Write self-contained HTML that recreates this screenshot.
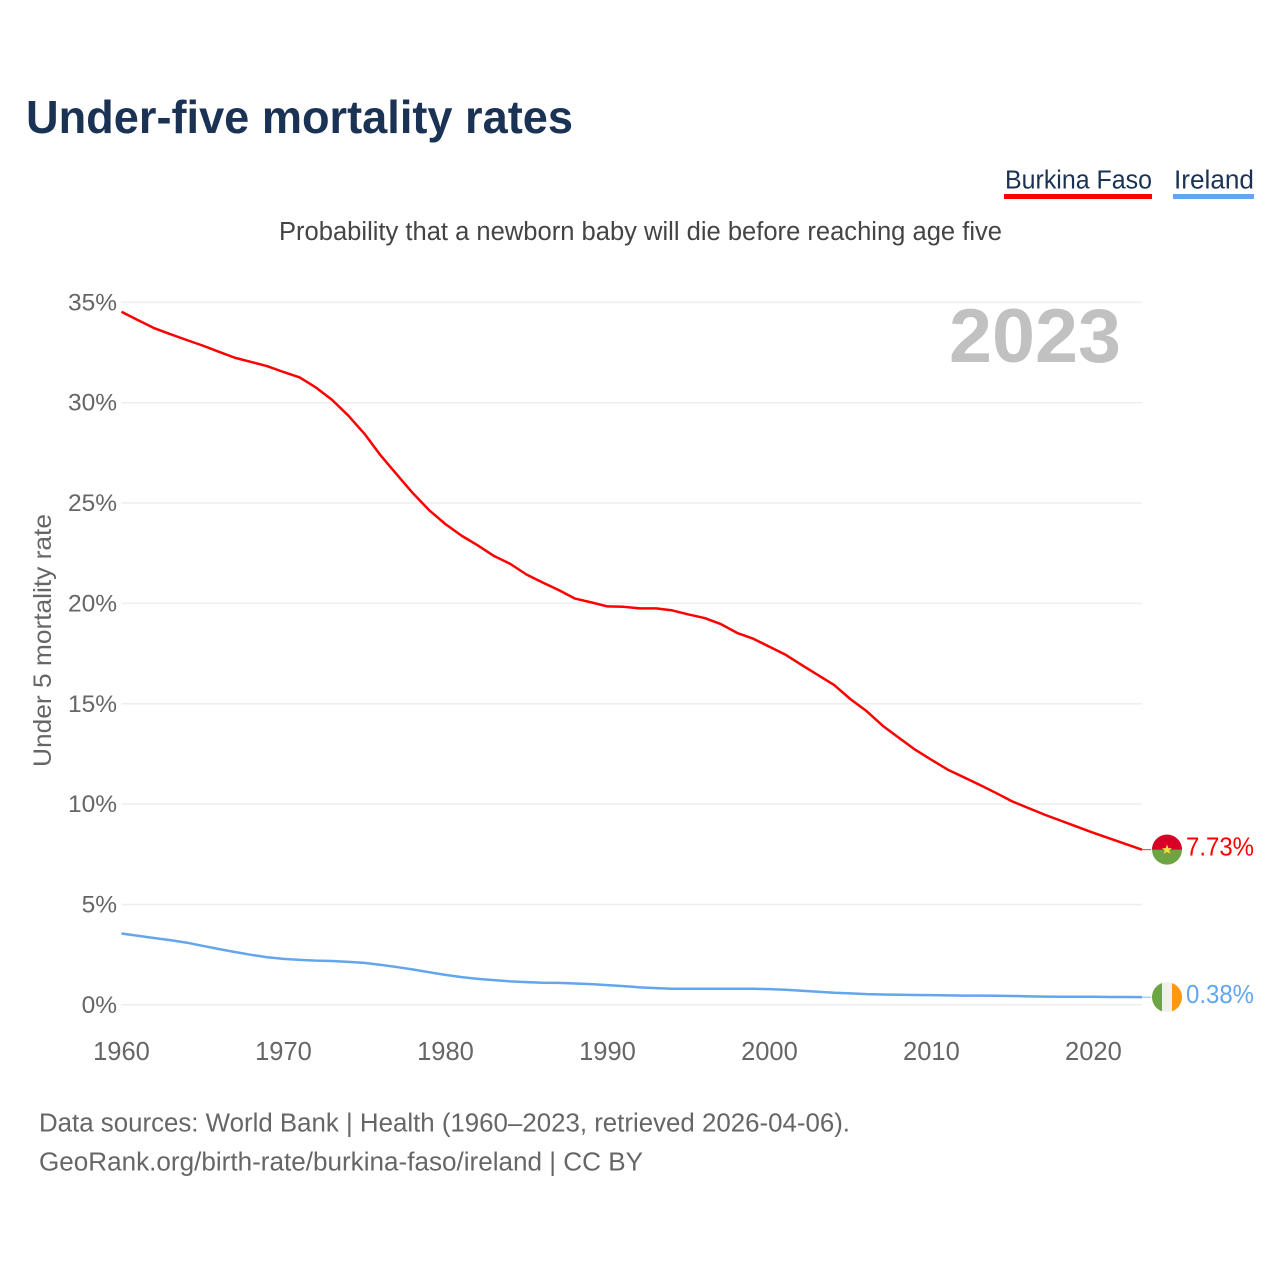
<!DOCTYPE html>
<html lang="en">
<head>
<meta charset="utf-8">
<title>Under-five mortality rates</title>
<style>
  html,body{margin:0;padding:0;background:#fff;}
  #chart{display:block;width:1280px;height:1280px;font-family:"Liberation Sans",sans-serif;}
</style>
</head>
<body>
<svg id="chart" xmlns="http://www.w3.org/2000/svg" width="1280" height="1280" viewBox="0 0 1280 1280">
  <rect x="0" y="0" width="1280" height="1280" fill="#ffffff"></rect>
  <text x="26" y="133" font-size="46" font-weight="700" fill="#1a3354" textLength="547" lengthAdjust="spacingAndGlyphs">Under-five mortality rates</text>

  <text x="1005" y="188.5" font-size="25.5" fill="#1a3354" textLength="147" lengthAdjust="spacingAndGlyphs">Burkina Faso</text>
  <rect x="1004" y="194" width="148" height="5" fill="#ff0000"></rect>
  <text x="1174" y="188.5" font-size="25.5" fill="#1a3354" textLength="80" lengthAdjust="spacingAndGlyphs">Ireland</text>
  <rect x="1173" y="194" width="81" height="5" fill="#63a6ee"></rect>

  <text x="279" y="240" font-size="25.5" fill="#444444" textLength="723" lengthAdjust="spacingAndGlyphs">Probability that a newborn baby will die before reaching age five</text>

  <g id="grid"></g>
  <g id="y-labels"></g>
  <g id="x-labels"></g>

  <text x="1121" y="362" text-anchor="end" font-size="76" font-weight="700" fill="#c1c1c1" textLength="172" lengthAdjust="spacingAndGlyphs">2023</text>

  <text transform="translate(51,767) rotate(-90)" font-size="25" fill="#666666" textLength="253" lengthAdjust="spacingAndGlyphs">Under 5 mortality rate</text>

  <g id="series"></g>
  <g id="end-markers"></g>

  <text x="39" y="1131.5" font-size="25.5" fill="#666666" textLength="811" lengthAdjust="spacingAndGlyphs">Data sources: World Bank | Health (1960–2023, retrieved 2026-04-06).</text>
  <text x="39" y="1170.5" font-size="25.5" fill="#666666" textLength="604" lengthAdjust="spacingAndGlyphs">GeoRank.org/birth-rate/burkina-faso/ireland | CC BY</text>
</svg>

<script>
const years = [1960,1961,1962,1963,1964,1965,1966,1967,1968,1969,
  1970,1971,1972,1973,1974,1975,1976,1977,1978,1979,
  1980,1981,1982,1983,1984,1985,1986,1987,1988,1989,
  1990,1991,1992,1993,1994,1995,1996,1997,1998,1999,
  2000,2001,2002,2003,2004,2005,2006,2007,2008,2009,
  2010,2011,2012,2013,2014,2015,2016,2017,2018,2019,
  2020,2021,2022,2023];
const burkinaFaso = [34.53,34.12,33.72,33.42,33.13,32.85,32.54,32.24,32.03,31.82,
  31.53,31.26,30.76,30.14,29.36,28.45,27.37,26.42,25.48,24.64,
  23.95,23.37,22.89,22.36,21.97,21.44,21.04,20.66,20.24,20.05,
  19.85,19.83,19.75,19.75,19.65,19.45,19.27,18.97,18.53,18.24,
  17.84,17.44,16.93,16.43,15.93,15.23,14.63,13.90,13.30,12.71,
  12.21,11.72,11.34,10.95,10.55,10.13,9.80,9.47,9.17,8.87,
  8.57,8.29,8.01,7.73];
const ireland = [3.55,3.44,3.33,3.22,3.10,2.94,2.78,2.63,2.49,2.37,
  2.29,2.24,2.20,2.18,2.14,2.09,1.99,1.88,1.76,1.62,
  1.49,1.38,1.29,1.23,1.17,1.13,1.10,1.09,1.06,1.03,
  0.98,0.93,0.87,0.83,0.80,0.80,0.80,0.80,0.80,0.80,
  0.78,0.75,0.70,0.65,0.60,0.57,0.53,0.51,0.50,0.49,
  0.48,0.47,0.46,0.46,0.45,0.44,0.42,0.41,0.40,0.40,
  0.40,0.39,0.39,0.38];
const yTickValues = [0,5,10,15,20,25,30,35];
const xTickValues = [1960,1970,1980,1990,2000,2010,2020];

const NS = 'http://www.w3.org/2000/svg';
const plotLeft = 121.5, plotRight = 1142, zeroY = 1004.8, pxPerUnit = 20.07;
const firstYear = years[0], lastYear = years[years.length - 1];
function xScale(year){ return plotLeft + (year - firstYear) * (plotRight - plotLeft) / (lastYear - firstYear); }
function yScale(value){ return zeroY - value * pxPerUnit; }
function make(tag, attrs, parent, text){
  const el = document.createElementNS(NS, tag);
  for (const k in attrs) el.setAttribute(k, attrs[k]);
  if (text !== undefined) el.textContent = text;
  parent.appendChild(el);
  return el;
}

const gridGroup = document.getElementById('grid');
const yLabelGroup = document.getElementById('y-labels');
const xLabelGroup = document.getElementById('x-labels');
const seriesGroup = document.getElementById('series');
const markerGroup = document.getElementById('end-markers');

yTickValues.forEach(function(v){
  const line = make('line', {x1: plotLeft, x2: plotRight, y1: yScale(v), y2: yScale(v), stroke: '#eeeeee', 'stroke-width': 1.5}, gridGroup);
  
  
  const label = make('text', {x: 117, y: yScale(v) + 8, 'text-anchor': 'end', 'font-size': 24.5, fill: '#666666'}, yLabelGroup, v + '%');
  
  
});

xTickValues.forEach(function(y){
  const label = make('text', {x: xScale(y), y: 1060, 'text-anchor': 'middle', 'font-size': 25.5, fill: '#666666'}, xLabelGroup, String(y));
  
  
});

function linePath(values){
  return values.map(function(v, i){
    return (i ? 'L' : 'M') + xScale(years[i]).toFixed(2) + ' ' + yScale(v).toFixed(2);
  }).join(' ');
}

const burkinaLine = make('path', {d: linePath(burkinaFaso), fill: 'none', stroke: '#ff0000', 'stroke-width': 2.5, 'stroke-linejoin': 'round'}, seriesGroup);


const irelandLine = make('path', {d: linePath(ireland), fill: 'none', stroke: '#63a6ee', 'stroke-width': 2.5, 'stroke-linejoin': 'round'}, seriesGroup);



function endLeader(value, color, name){
  const y = yScale(value);
  const leader = make('line', {x1: plotRight, x2: 1151, y1: y, y2: y, stroke: color, 'stroke-width': 1, opacity: 0.8}, markerGroup);
  
  
}
function endLabel(value, color, name){
  const label = make('text', {x: 1254, y: yScale(value) + 6, 'text-anchor': 'end', 'font-size': 25.5, fill: color, textLength: 68, lengthAdjust: 'spacingAndGlyphs'}, markerGroup, value.toFixed(2) + '%');
  
  
}

const bfValue = burkinaFaso[burkinaFaso.length - 1];
const ieValue = ireland[ireland.length - 1];
endLeader(bfValue, '#ff0000', 'leader-burkina-faso');
endLeader(ieValue, '#63a6ee', 'leader-ireland');

const bfFlag = make('g', {transform: 'translate(1167,' + yScale(bfValue) + ')'}, markerGroup);


make('circle', {cx: 0, cy: 0, r: 15, fill: '#6da544'}, bfFlag);
make('path', {d: 'M-15 0 A15 15 0 0 1 15 0 Z', fill: '#d80027'}, bfFlag);
make('polygon', {points: '0,-5 1.4,-1.5 5,-1.5 2.2,0.8 3.2,4.2 0,2.2 -3.2,4.2 -2.2,0.8 -5,-1.5 -1.4,-1.5', fill: '#ffda44'}, bfFlag);

const ieFlag = make('g', {transform: 'translate(1167,' + yScale(ieValue) + ')'}, markerGroup);


make('circle', {cx: 0, cy: 0, r: 15, fill: '#f0f0f0'}, ieFlag);
make('path', {d: 'M-5 -14.14 A15 15 0 0 0 -5 14.14 Z', fill: '#6da544'}, ieFlag);
make('path', {d: 'M5 -14.14 A15 15 0 0 1 5 14.14 Z', fill: '#ff9811'}, ieFlag);

endLabel(bfValue, '#ff0000', 'end-label-burkina-faso');
endLabel(ieValue, '#63a6ee', 'end-label-ireland');
</script>
</body>
</html>
